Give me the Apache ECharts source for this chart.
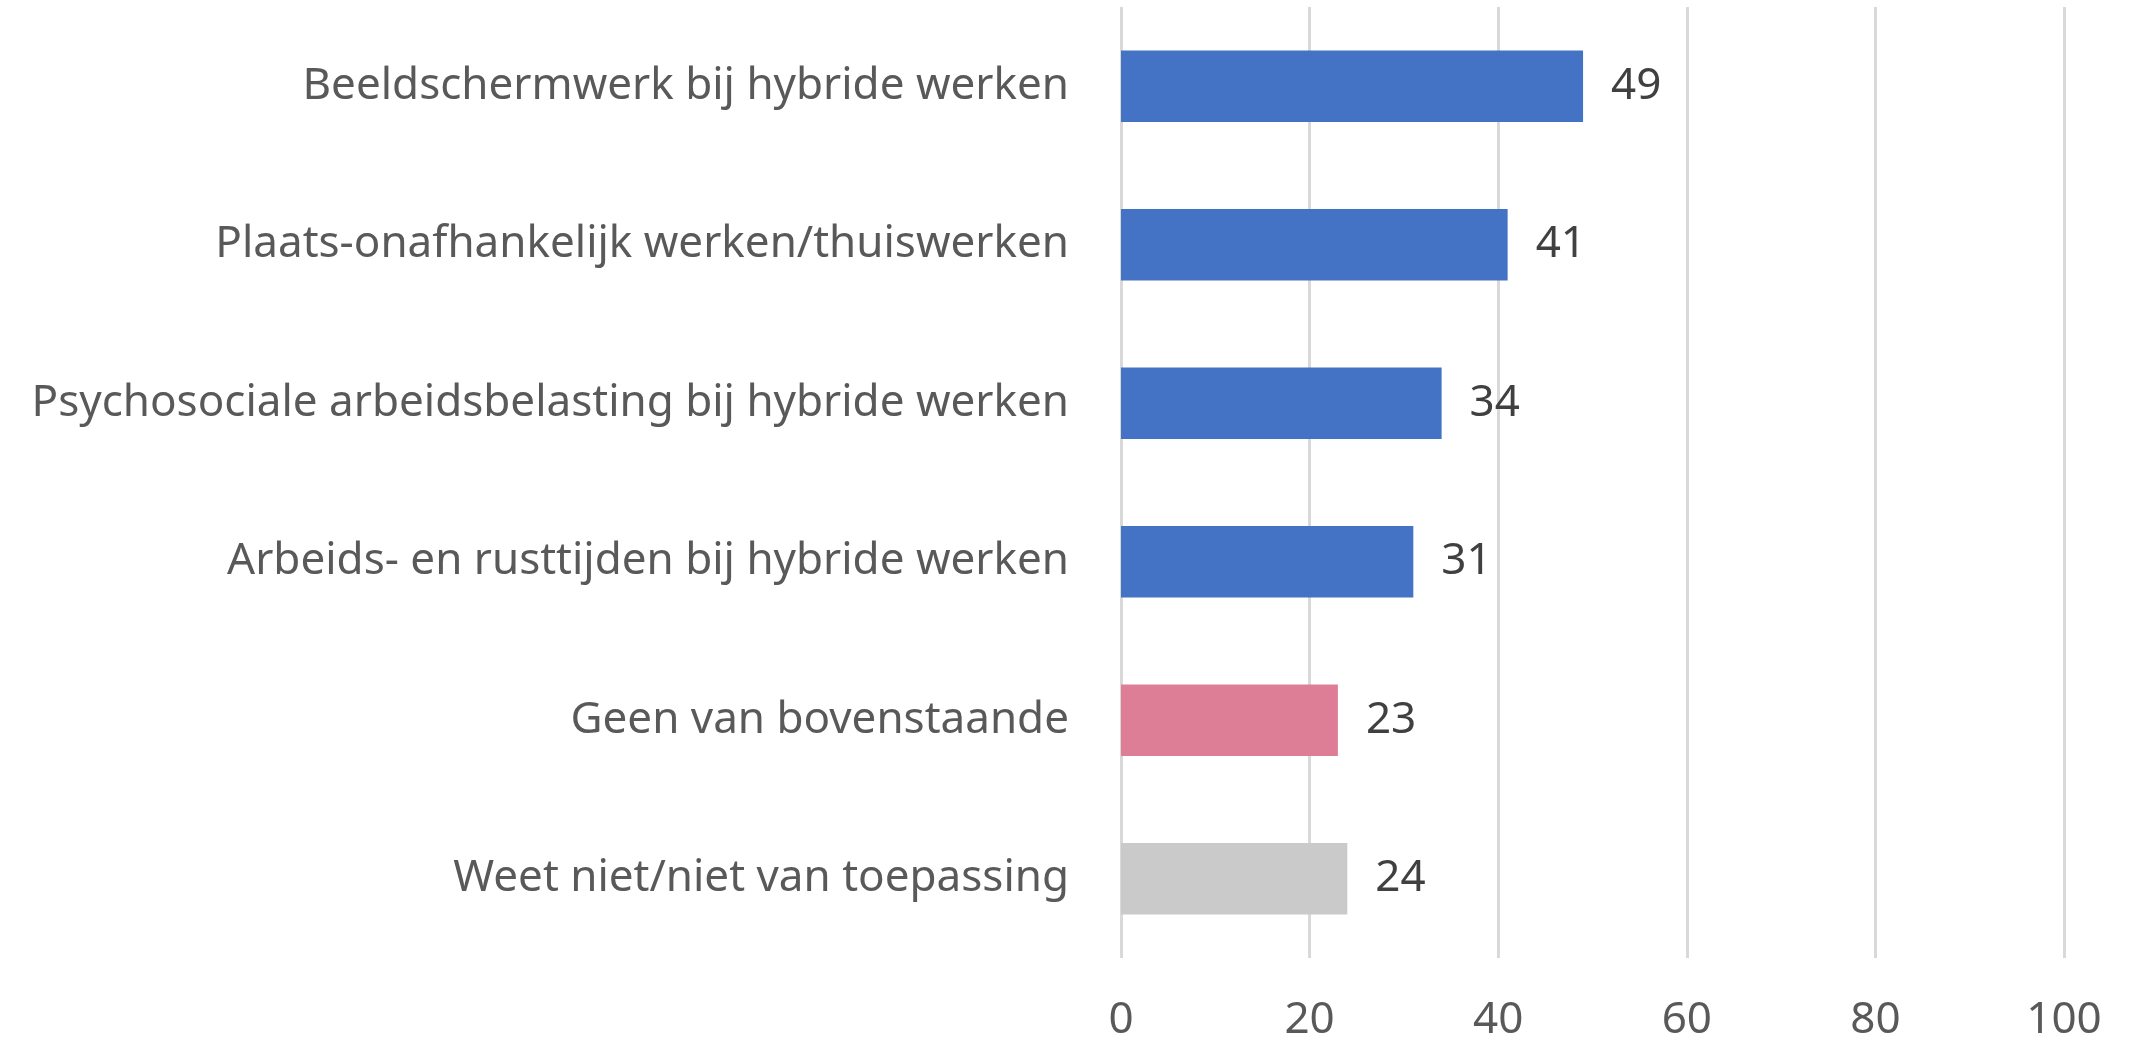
<!DOCTYPE html>
<html>
<head>
<meta charset="utf-8">
<script src="https://cdn.jsdelivr.net/npm/echarts@6/dist/echarts.min.js"></script>
<style>
  html, body { margin: 0; padding: 0; background: #ffffff; }
  #chart { width: 2136px; height: 1048px; }
</style>
</head>
<body>
<div id="chart"></div>
<script>
// onderwerpen, van boven naar beneden
const categories = [
  'Beeldschermwerk bij hybride werken',
  'Plaats-onafhankelijk werken/thuiswerken',
  'Psychosociale arbeidsbelasting bij hybride werken',
  'Arbeids- en rusttijden bij hybride werken',
  'Geen van bovenstaande',
  'Weet niet/niet van toepassing'
]
const values = [49, 41, 34, 31, 23, 24]
const barColors = ['#4472c4', '#4472c4', '#4472c4', '#4472c4', '#de7e96', '#cacaca']
const xTicks = [0, 20, 40, 60, 80, 100]

const FONT = "'Noto Sans', sans-serif"

const chart = echarts.init(document.getElementById('chart'))

const option = {
  backgroundColor: '#ffffff',
  animation: false,
  grid: {
    left: 1121,
    right: 72,
    top: 7,
    bottom: 90,
    containLabel: false,
    outerBoundsMode: 'none'
  },
  xAxis: {
    type: 'value',
    min: xTicks[0],
    max: xTicks[xTicks.length - 1],
    interval: 20,
    axisLine: { show: false },
    axisTick: { show: false },
    axisLabel: {
      color: '#595959',
      fontSize: 44,
      fontFamily: FONT,
      margin: 40
    },
    splitLine: {
      lineStyle: { color: '#d9d9d9', width: 3 }
    }
  },
  yAxis: {
    type: 'category',
    inverse: true,
    data: categories,
    axisLine: { show: false },
    axisTick: { show: false },
    axisLabel: {
      color: '#595959',
      fontSize: 44,
      fontFamily: FONT,
      margin: 52
    }
  },
  series: [
    {
      type: 'bar',
      barCategoryGap: '55%',
      data: values.map((v, i) => ({ value: v, itemStyle: { color: barColors[i] } })),
      label: {
        show: true,
        position: 'right',
        distance: 28,
        color: '#404040',
        fontSize: 44,
        fontFamily: FONT
      }
    }
  ]
}

chart.setOption(option)
</script>
</body>
</html>
